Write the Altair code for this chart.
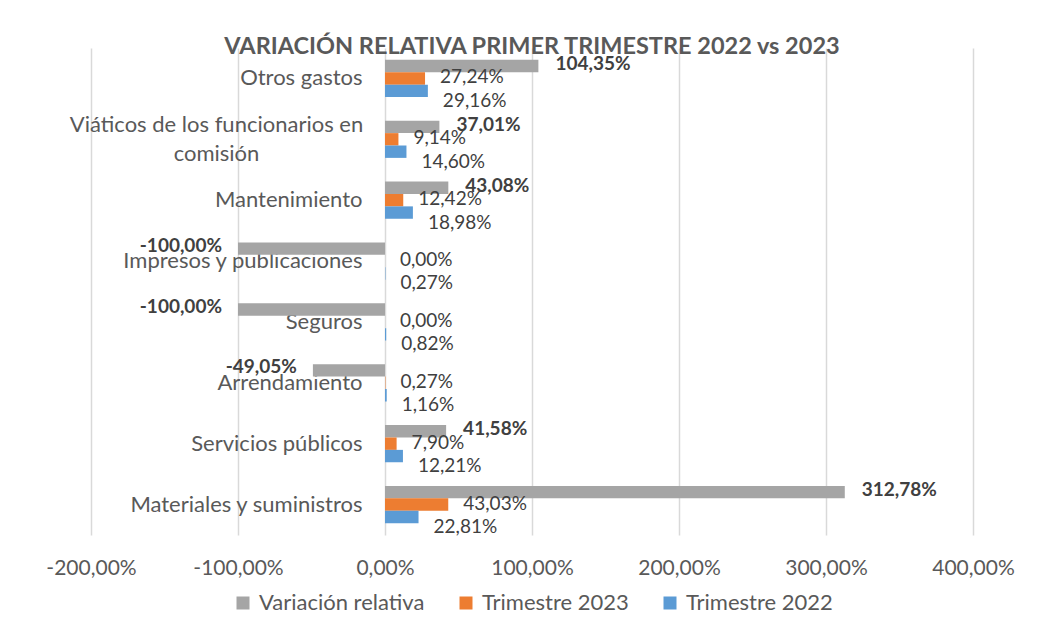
import altair as alt
import pandas as pd

categories = [
    "Otros gastos",
    "Viáticos de los funcionarios en comisión",
    "Mantenimiento",
    "Impresos y publicaciones",
    "Seguros",
    "Arrendamiento",
    "Servicios públicos",
    "Materiales y suministros",
]
variacion = [104.35, 37.01, 43.08, -100.00, -100.00, -49.05, 41.58, 312.78]
trim_2023 = [27.24, 9.14, 12.42, 0.00, 0.00, 0.27, 7.90, 43.03]
trim_2022 = [29.16, 14.60, 18.98, 0.27, 0.82, 1.16, 12.21, 22.81]
series = ["Variación relativa", "Trimestre 2023", "Trimestre 2022"]
colors = ["#A5A5A5", "#ED7D31", "#5B9BD5"]
x_ticks = [-200, -100, 0, 100, 200, 300, 400]

rows = []
for i, c in enumerate(categories):
    for s, vals in zip(series, [variacion, trim_2023, trim_2022]):
        v = vals[i]
        rows.append({
            "categoria": c,
            "serie": s,
            "valor": v,
            "etiqueta": f"{v:.2f}".replace(".", ",") + "%",
        })
df = pd.DataFrame(rows)

W, H = 882, 487
FONT = "Lato"
LONG = "datum.label == 'Viáticos de los funcionarios en comisión'"

y_enc = alt.Y(
    "categoria:N",
    sort=categories,
    scale=alt.Scale(domain=categories, paddingInner=0.39, paddingOuter=0.195),
    axis=alt.Axis(
        title=None, domain=False, ticks=False, offset=-294,
        labelPadding={"condition": {"test": LONG, "value": 169}, "value": 23},
        labelAlign={"condition": {"test": LONG, "value": "center"}, "value": "right"},
        labelOffset={"condition": {"test": LONG, "value": -14.5}, "value": 0},
        labelFontSize=22, labelColor="#595959", labelFont=FONT, labelLineHeight=29,
        labelLimit=400,
        labelExpr=LONG + " ? ['Viáticos de los funcionarios en', 'comisión'] : datum.label",
    ),
)
x_enc = alt.X(
    "valor:Q",
    scale=alt.Scale(domain=[-200, 400], nice=False, zero=False),
    axis=alt.Axis(
        title=None, values=x_ticks, domain=False, ticks=False, grid=True,
        gridColor="#D9D9D9", gridWidth=1.5, labelPadding=22, labelFlush=False,
        labelFontSize=21, labelColor="#595959", labelFont=FONT,
        labelExpr="(datum.value < 0 ? '-' : '') + replace(format(abs(datum.value), '.2f'), '.', ',') + '%'",
    ),
)
yoff_enc = alt.YOffset("serie:N", sort=series, scale=alt.Scale(domain=series, paddingInner=0))

base = alt.Chart(df).encode(y=y_enc, x=x_enc, yOffset=yoff_enc)

bars = base.mark_bar().encode(
    color=alt.Color(
        "serie:N",
        sort=series,
        scale=alt.Scale(domain=series, range=colors),
        legend=alt.Legend(
            title=None, orient="none", direction="horizontal", legendX=141, legendY=544,
            symbolType="square", symbolSize=169, symbolStrokeWidth=0, labelOffset=5,
            labelFontSize=22, labelColor="#595959", labelFont=FONT, columnPadding=30,
            padding=0, labelLimit=400,
        ),
    )
)

lbl_style = dict(baseline="middle", fontSize=19, font=FONT, color="#404040")

gray_pos = base.mark_text(align="left", dx=17, dy=-2, fontWeight="bold", **lbl_style).encode(
    text="etiqueta:N"
).transform_filter("datum.serie == 'Variación relativa' && datum.valor >= 0")

gray_neg = base.mark_text(align="right", dx=-16, dy=-3, fontWeight="bold", **lbl_style).encode(
    text="etiqueta:N"
).transform_filter("datum.serie == 'Variación relativa' && datum.valor < 0")

orange_lbl = base.mark_text(align="left", dx=15, dy=-1, **lbl_style).encode(
    text="etiqueta:N"
).transform_filter("datum.serie == 'Trimestre 2023'")

blue_lbl = base.mark_text(align="left", dx=15, dy=10, **lbl_style).encode(
    text="etiqueta:N"
).transform_filter("datum.serie == 'Trimestre 2022'")

chart = alt.layer(bars, gray_pos, gray_neg, orange_lbl, blue_lbl).properties(
    width=W,
    height=H,
    padding={"left": 83, "top": 40, "right": 61, "bottom": 85},
    autosize=alt.AutoSizeParams(type="none"),
    title=alt.TitleParams(
        "VARIACIÓN RELATIVA PRIMER TRIMESTRE 2022 vs 2023",
        fontSize=23.5, font=FONT, fontWeight="bold", color="#595959",
        anchor="middle", frame="group", offset=-10,
    ),
).configure(font=FONT, view=alt.ViewConfig(stroke=None))

chart.save("out.html", embed_options={"renderer": "svg", "actions": False})
